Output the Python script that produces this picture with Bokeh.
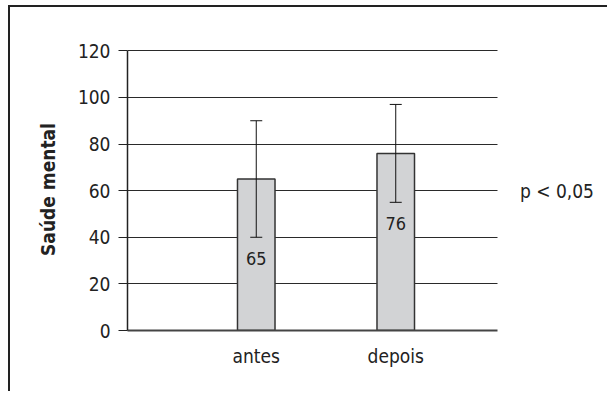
from bokeh.plotting import figure
from bokeh.models import Range1d, ColumnDataSource, Whisker, TeeHead, Label, FixedTicker, Grid
from bokeh.core.properties import value
from bokeh.embed import file_html
from bokeh.resources import INLINE

# ---- data ----
categories = ["antes", "depois"]
means = [65, 76]
err_lower = [40, 55]
err_upper = [90, 97]
value_labels = ["65", "76"]
y_ticks = [0, 20, 40, 60, 80, 100, 120]
y_label = "Saúde mental"
p_note = "p < 0,05"

FONT = "DejaVu Sans Condensed"
TXT = "#222222"
X0, X1, XEND = 0.077, 2.731, 3.518   # plotted extent / right margin area
YTOP = 121

xpos = [i + 1 for i in range(len(categories))]
src = ColumnDataSource(dict(x=xpos, top=means, lo=err_lower, hi=err_upper,
                            lab=value_labels, ly=[31, 46]))

p = figure(width=597, height=384, output_backend="svg", toolbar_location=None,
           x_range=Range1d(X0, XEND), y_range=Range1d(0, YTOP),
           frame_width=480, frame_height=282,
           min_border_left=117, min_border_top=41, min_border_right=0, min_border_bottom=61,
           tools="")
p.styles = {"border-top": "2px solid #222", "border-left": "2px solid #222",
            "margin-left": "8px", "margin-top": "5px"}
p.outline_line_color = None
p.background_fill_color = "white"

# grid (limited to the plotted extent)
p.xgrid.visible = False
if "cross_bounds" in Grid.properties():
    p.ygrid.ticker = FixedTicker(ticks=y_ticks)
    p.ygrid.grid_line_color = "#2a2a2a"
    p.ygrid.grid_line_width = 1
    p.ygrid.cross_bounds = (X0, X1)
else:
    p.ygrid.visible = False
    gy = [t for t in y_ticks if t > 0]
    p.segment(x0=[X0] * len(gy), x1=[X1] * len(gy), y0=gy, y1=gy,
              line_color="#2a2a2a", line_width=1, level="underlay")

p.vbar(x="x", top="top", width=0.269, source=src, fill_color="#d2d3d5",
       line_color="#333333", line_width=1.5)

w = Whisker(base="x", lower="lo", upper="hi", source=src, line_color="#111111", line_width=1,
            level="overlay",
            upper_head=TeeHead(size=12, line_color="#111111", line_width=1),
            lower_head=TeeHead(size=12, line_color="#111111", line_width=1))
p.add_layout(w)

p.text(x="x", y="ly", text="lab", source=src, text_font=value(FONT), text_font_size="18px",
       text_color=TXT, text_align="center", text_baseline="middle")

# y axis
p.yaxis.ticker = FixedTicker(ticks=y_ticks)
p.yaxis.bounds = (0, 120)
p.yaxis.axis_label = y_label
p.yaxis.axis_label_text_font = FONT
p.yaxis.axis_label_text_font_style = "bold"
p.yaxis.axis_label_text_font_size = "19px"
p.yaxis.axis_label_text_color = TXT
p.yaxis.axis_label_standoff = 16
p.yaxis.major_label_text_font = FONT
p.yaxis.major_label_text_font_size = "19px"
p.yaxis.major_label_text_color = TXT
p.yaxis.major_tick_out = 9
p.yaxis.major_tick_in = 0
p.yaxis.minor_tick_line_color = None
p.yaxis.major_label_standoff = 8
p.yaxis.axis_line_color = "#222222"
p.yaxis.axis_line_width = 1.5
p.yaxis.major_tick_line_color = "#222222"

# x axis
p.xaxis.ticker = FixedTicker(ticks=xpos)
p.xaxis.bounds = (X0, X1)
p.xaxis.major_label_overrides = {x: c for x, c in zip(xpos, categories)}
p.xaxis.major_label_text_font = FONT
p.xaxis.major_label_text_font_size = "19px"
p.xaxis.major_label_text_color = TXT
p.xaxis.major_tick_line_color = None
p.xaxis.minor_tick_line_color = None
p.xaxis.major_tick_out = 0
p.xaxis.major_label_standoff = 14
p.xaxis.axis_line_color = "#444444"
p.xaxis.axis_line_width = 2

p.add_layout(Label(x=2.89, y=60, text=p_note,
                   text_font=FONT, text_font_size="19px", text_color=TXT,
                   text_baseline="middle"))

open("out.html", "w").write(file_html(p, INLINE))
